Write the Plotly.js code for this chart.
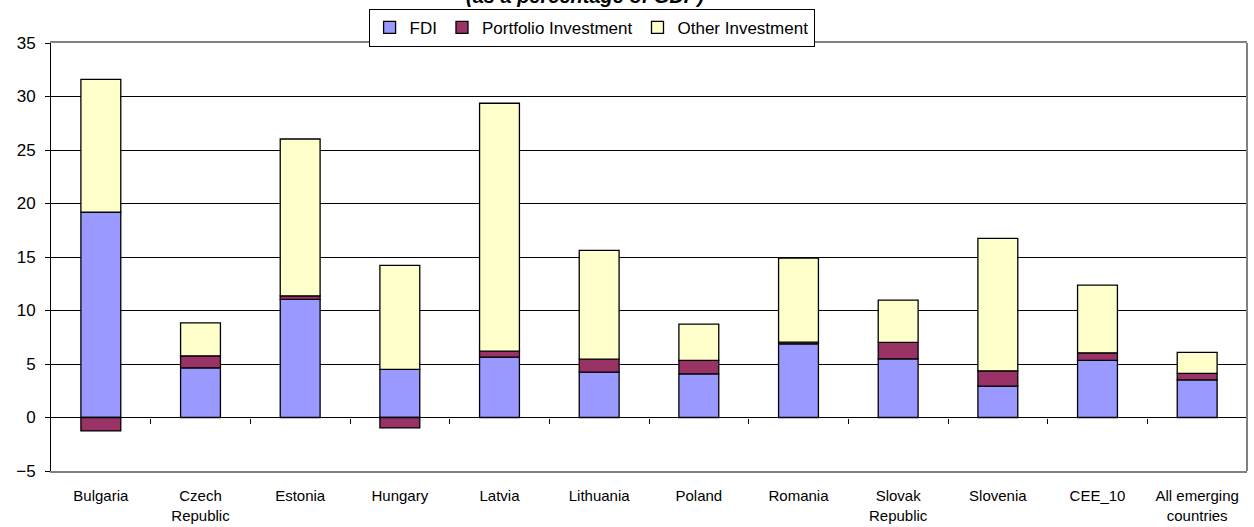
<!DOCTYPE html>
<html>
<head>
<meta charset="utf-8">
<script src="https://cdn.plot.ly/plotly-3.0.1.min.js"></script>
<style>html,body{margin:0;padding:0;background:#fff;}#chart{width:1254px;height:527px;}</style>
</head>
<body>
<div id="chart"></div>
<script>
const categories = ["Bulgaria", "Czech<br>Republic", "Estonia", "Hungary", "Latvia", "Lithuania", "Poland", "Romania", "Slovak<br>Republic", "Slovenia", "CEE_10", "All emerging<br>countries"];
const fdi = [19.2, 4.64, 11.04, 4.49, 5.64, 4.24, 4.08, 6.89, 5.48, 2.93, 5.33, 3.52];
const portfolio = [-1.25, 1.12, 0.33, -0.97, 0.56, 1.21, 1.25, 0.15, 1.54, 1.43, 0.71, 0.60];
const other = [12.4, 3.09, 14.66, 9.73, 23.17, 10.17, 3.40, 7.86, 3.95, 12.38, 6.34, 1.96];
const seriesNames = ["FDI", "Portfolio Investment", "Other Investment"];
const seriesColors = ["#9999FF", "#993366", "#FFFFCC"];
const titleText = "<b><i>(as a percentage of GDP)</i></b>";

const idx = categories.map((_, i) => i);
const boundaries = categories.slice(1).map((_, i) => i + 0.5);

const traces = [fdi, portfolio, other].map((vals, k) => ({
  type: "bar",
  name: seriesNames[k],
  x: idx,
  y: vals,
  marker: {color: seriesColors[k], line: {color: "#000", width: 1.3}},
  hoverinfo: "y+name"
}));
// invisible helper trace for category tick marks on the zero line
traces.push({type: "scatter", x: [boundaries[0]], y: [0], xaxis: "x2", mode: "markers",
  marker: {opacity: 0}, showlegend: false, hoverinfo: "skip"});

const yMin = -5, yMax = 35;
const layout = {
  width: 1254, height: 527,
  margin: {l: 51, r: 7, t: 43, b: 56},
  paper_bgcolor: "#fff", plot_bgcolor: "#fff",
  font: {family: "Liberation Sans, Arial, sans-serif", color: "#000"},
  barmode: "relative",
  bargap: 0.6,
  showlegend: true,
  legend: {orientation: "h", x: 0.452, xanchor: "center", y: 1.08, yanchor: "top",
           bordercolor: "#000", borderwidth: 1, bgcolor: "#fff",
           font: {size: 17}, itemwidth: 30, traceorder: "normal"},
  annotations: [{text: titleText, xref: "paper", yref: "paper", x: 0.4465, xanchor: "center",
                 y: 1.079, yanchor: "bottom", showarrow: false, font: {size: 20, color: "#000"}}],
  xaxis: {type: "linear", range: [-0.5, categories.length - 0.5],
          tickvals: idx, ticktext: categories, tickfont: {size: 15},
          ticks: "outside", ticklen: 10, tickcolor: "rgba(0,0,0,0)",
          showline: true, linecolor: "#808080", linewidth: 2, mirror: true,
          showgrid: false, zeroline: false, fixedrange: true},
  xaxis2: {type: "linear", range: [-0.5, categories.length - 0.5], overlaying: "x",
           anchor: "free", position: (0 - yMin) / (yMax - yMin),
           tickvals: boundaries, ticks: "outside", ticklen: 5, tickcolor: "#000", tickwidth: 1,
           showticklabels: false, showline: false, showgrid: false, zeroline: false},
  yaxis: {range: [yMin, yMax], dtick: 5, tick0: 0, tickfont: {size: 17},
          ticks: "outside", ticklen: 5, tickcolor: "#000", ticklabelstandoff: 6,
          showline: true, linecolor: "#000", linewidth: 1,
          gridcolor: "#000", gridwidth: 1, zeroline: true, zerolinecolor: "#000", zerolinewidth: 1,
          fixedrange: true},
  shapes: [{type: "line", xref: "paper", yref: "paper", x0: 1, x1: 1, y0: 0, y1: 1,
            line: {color: "#808080", width: 2}}]
};

Plotly.newPlot("chart", traces, layout, {displayModeBar: false, staticPlot: true});
</script>
</body>
</html>
